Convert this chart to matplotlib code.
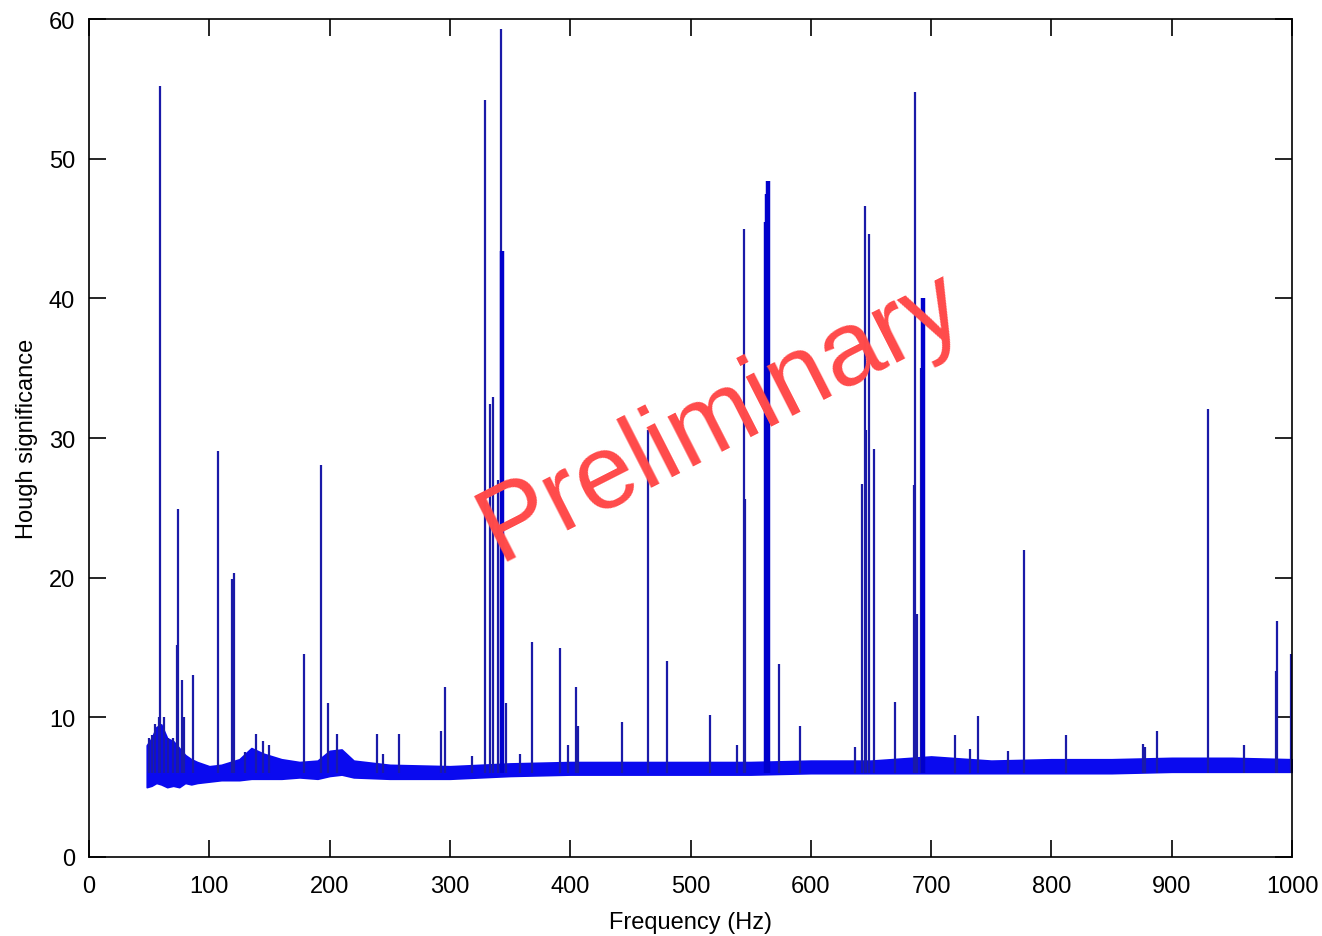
import matplotlib
matplotlib.use("Agg")
import matplotlib.pyplot as plt

# --- Noise floor envelope (Hz, lower, upper) ---
floor_freq = [48, 52, 56, 60, 65, 70, 75, 80, 85, 90, 100, 110, 125, 135, 145, 160,
              175, 190, 200, 210, 220, 250, 300, 350, 400, 450, 500, 550, 600, 650,
              700, 750, 800, 850, 900, 950, 1000]
floor_low = [5.0, 5.1, 5.3, 5.2, 5.0, 5.1, 5.0, 5.3, 5.2, 5.3, 5.4, 5.5, 5.5, 5.6, 5.6, 5.6,
             5.7, 5.6, 5.8, 5.9, 5.7, 5.6, 5.6, 5.8, 5.9, 5.9, 5.9, 5.9, 6.0, 6.0,
             6.0, 6.0, 6.0, 6.0, 6.1, 6.1, 6.1]
floor_high = [8.0, 8.5, 9.3, 9.5, 8.5, 8.3, 7.8, 7.3, 7.0, 6.8, 6.5, 6.6, 7.0, 7.8, 7.4, 7.0,
              6.8, 6.9, 7.6, 7.7, 6.9, 6.6, 6.5, 6.7, 6.8, 6.8, 6.8, 6.8, 6.9, 6.9,
              7.2, 6.9, 7.0, 7.0, 7.1, 7.1, 7.0]

# --- Spikes: frequency (Hz) and peak Hough significance ---
spike_freq = [50, 52, 55, 58, 59, 62, 66, 70, 73, 74, 77, 79, 86.5, 107, 119, 120.5,
              130, 139, 145, 150, 179, 193, 199, 206, 239, 244, 258, 293, 296, 318, 329,
              333, 335.5, 340, 342.5, 347, 358, 368, 391.5, 398, 405, 406.5, 443, 464.7,
              480.5, 516, 539, 544.5, 545.5, 573.5, 591, 637, 642.5, 645, 646, 648.5,
              652.5, 670, 685.5, 686.6, 688, 692, 720, 732, 739, 764, 777, 812, 876, 878,
              888, 930, 960, 986.5, 987.5, 999]
spike_peak = [8.5, 8.7, 9.5, 10.0, 55.2, 10.0, 8.5, 8.5, 15.2, 24.9, 12.7, 10.0, 13.0, 29.1, 19.9, 20.3,
              7.5, 8.8, 8.3, 8.0, 14.5, 28.1, 11.0, 8.8, 8.8, 7.4, 8.8, 9.0, 12.2, 7.2, 54.2,
              32.4, 32.9, 27.0, 59.3, 11.0, 7.4, 15.4, 15.0, 8.0, 12.2, 9.4, 9.7, 30.6,
              14.0, 10.2, 8.0, 45.0, 25.6, 13.8, 9.4, 7.9, 26.7, 46.6, 30.6, 44.6,
              29.2, 11.1, 26.6, 54.8, 17.4, 35.0, 8.7, 7.7, 10.1, 7.6, 22.0, 8.7, 8.1, 7.9,
              9.0, 32.1, 8.0, 13.3, 16.9, 14.5]

# thicker clustered spikes (several adjacent bins)
thick_freq = [343.5, 562.5, 563.5, 564.5, 693.5]
thick_peak = [43.4, 45.5, 47.5, 48.4, 40.0]

x_ticks = [0, 100, 200, 300, 400, 500, 600, 700, 800, 900, 1000]
y_ticks = [0, 10, 20, 30, 40, 50, 60]

BLUE = "#0a0aef"
FONT = "Liberation Sans"

fig = plt.figure(figsize=(13.22, 9.37), dpi=100)
ax = fig.add_axes([89 / 1322, 1 - 858 / 937, (1292 - 89) / 1322, (858 - 20) / 937])

ax.fill_between(floor_freq, floor_low, floor_high, color=BLUE, linewidth=1.2, edgecolor=BLUE)
ax.vlines(spike_freq, 6.0, spike_peak, color="#1a1aa8", linewidth=1.6)
ax.vlines(thick_freq, 6.0, thick_peak, color="#0000cc", linewidth=3.2)

ax.set_xlim(0, 1000)
ax.set_ylim(0, 60)
ax.set_xticks(x_ticks)
ax.set_yticks(y_ticks)
ax.tick_params(direction="in", length=12, width=1.2, top=True, right=True,
               labelsize=17)
ax.tick_params(axis="x", pad=13)
ax.tick_params(axis="y", pad=10)
for lab in ax.get_xticklabels() + ax.get_yticklabels():
    lab.set_fontfamily(FONT)
for sp in ax.spines.values():
    sp.set_linewidth(1.2)

ax.set_xlabel("Frequency (Hz)", fontsize=17, fontfamily=FONT, labelpad=10)
ax.set_ylabel("Hough significance", fontsize=17, fontfamily=FONT, labelpad=8)

ax.text(525, 31.6, "Preliminary", color="#ff4a4a", fontsize=76, fontfamily=FONT,
        rotation=27, ha="center", va="center", zorder=10)

fig.savefig("out.png", dpi=100)
